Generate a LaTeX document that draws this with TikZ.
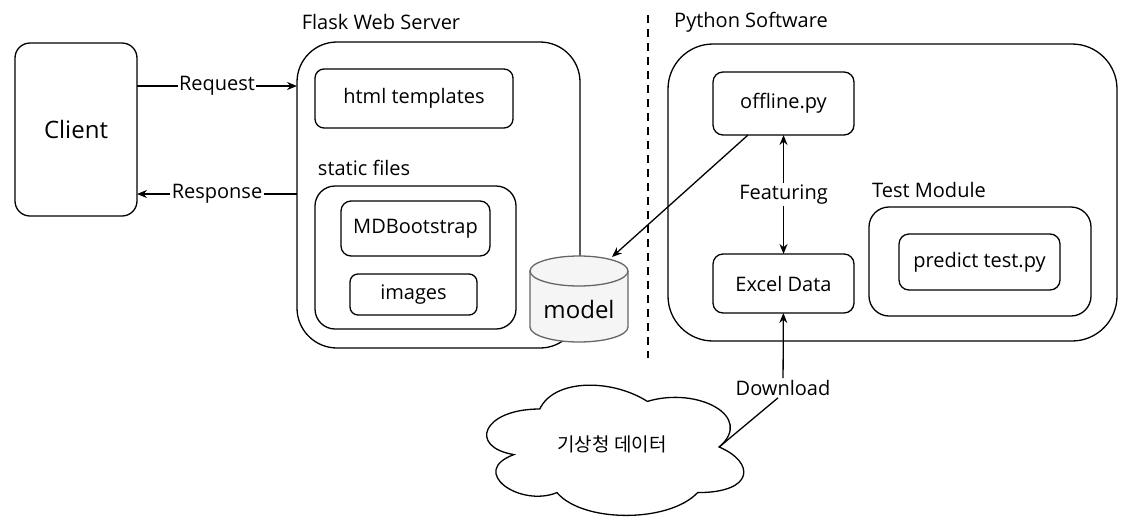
\documentclass[tikz,border=0pt]{standalone}
\usepackage{fontspec}
\setmainfont{Open Sans}
\newfontfamily\krfont{Noto Sans CJK KR}
\usetikzlibrary{arrows.meta}
\begin{document}
\begin{tikzpicture}[x=1pt,y=-1pt,line width=1.3pt,
  font=\fontsize{20}{24}\selectfont,
  box/.style={draw, rounded corners=#1, inner sep=0pt, outer sep=0pt},
  big/.style={font=\fontsize{24}{28}\selectfont},
  lbl/.style={fill=white, inner sep=1.5pt},
  arr/.style={-{Stealth[length=10pt,width=8pt]}},
  darr/.style={{Stealth[length=10pt,width=8pt]}-{Stealth[length=10pt,width=8pt]}}]
\useasboundingbox (0,0) rectangle (1134,528);

% Client
\node[box=15pt, minimum width=122pt, minimum height=173pt, big] (client) at (76,129.5) {Client};

% Flask Web Server
\node (flasklbl) at (381,22) {Flask Web Server};
\node[box=40pt, minimum width=283pt, minimum height=306pt] (flask) at (438.5,195) {};
\node[box=9pt, minimum width=198pt, minimum height=59pt] (html) at (414,98.5) {html templates};
\node[anchor=west] (staticlbl) at (314,168) {static files};
\node[box=20pt, minimum width=201pt, minimum height=143pt] (static) at (415.5,257.5) {};
\node[box=10pt, minimum width=149pt, minimum height=55pt] (mdb) at (415.5,228.5) {MDBootstrap};
\node[box=8pt, minimum width=127pt, minimum height=41pt] (images) at (413.5,294.5) {images};

% model cylinder
\node[minimum width=98pt, minimum height=86pt, inner sep=0pt] (model) at (579,299) {};
\filldraw[draw=black!60, fill=black!4] (530,271) -- (530,327)
  arc[start angle=180, end angle=360, x radius=49pt, y radius=15pt]
  -- (628,271)
  arc[start angle=0, end angle=180, x radius=49pt, y radius=15pt] -- cycle;
\draw[black!60] (530,271) arc[start angle=180, end angle=360, x radius=49pt, y radius=15pt];
\node[big] (modeltxt) at (579,309) {model};

% divider
\draw[line width=2pt, dash pattern=on 8pt off 6pt] (648,15) -- (648,358);

% Python Software
\node (pylbl) at (751,22) {Python Software};
\node[box=45pt, minimum width=449pt, minimum height=297pt] (python) at (892.5,192.5) {};
\node[box=10pt, minimum width=141pt, minimum height=63pt] (offline) at (783.5,103.5) {offline.py};
\node[box=10pt, minimum width=141pt, minimum height=59pt] (excel) at (783.5,283.5) {Excel Data};
\node (testlbl) at (929,190) {Test Module};
\node[box=20pt, minimum width=222pt, minimum height=109pt] (test) at (980,261.5) {};
\node[box=10pt, minimum width=161pt, minimum height=56pt] (predict) at (979.5,262) {predict test.py};

% cloud (x0=468, y0=371, w=287, h=152)
\begin{scope}[shift={(468,371)}, x=287pt, y=-152pt]
\draw (0.25,0.25) .. controls (0.05,0.25) and (0,0.5) .. (0.16,0.55)
  .. controls (0,0.66) and (0.18,0.9) .. (0.31,0.8)
  .. controls (0.4,1) and (0.7,1) .. (0.8,0.8)
  .. controls (1,0.8) and (1,0.6) .. (0.875,0.5)
  .. controls (1,0.3) and (0.8,0.1) .. (0.625,0.2)
  .. controls (0.5,0.05) and (0.3,0.05) .. (0.25,0.25) -- cycle;
\coordinate (cloudnotch) at (0.875,0.5);
\end{scope}
\node[font=\krfont\fontsize{19}{23}\selectfont] (cloud) at (612,444) {기상청 데이터};

% connectors
\draw[arr] ([yshift=43.5pt]client.east) -- node[lbl]{Request} ([yshift=109pt]flask.west);
\draw[arr] ([yshift=1pt]flask.west) -- node[lbl]{Response} ([yshift=-64.5pt]client.east);
\draw[darr] (offline) -- node[lbl]{Featuring} (excel);
\coordinate (modeltip) at (612,257);
\draw[arr] ([xshift=35pt]offline.south west) -- (modeltip);
\node[lbl] (dl) at (783,388) {Download};
\draw (cloudnotch) -- (dl.south west -| 778,0);
\draw[arr] (dl) -- (excel);
\end{tikzpicture}
\end{document}
